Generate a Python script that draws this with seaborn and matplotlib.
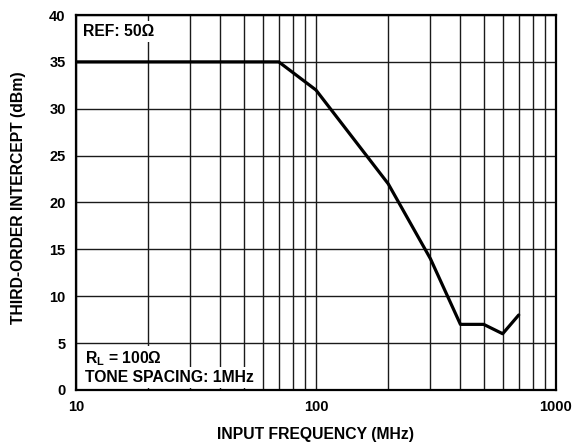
import matplotlib
matplotlib.use("Agg")
import matplotlib.pyplot as plt
import seaborn as sns
import pandas as pd
from matplotlib.ticker import NullFormatter, FixedLocator

# Third-order intercept vs input frequency
freq_mhz = [10, 70, 100, 200, 300, 400, 500, 600, 700]
oip3_dbm = [35, 35, 32, 22, 14, 7, 7, 6, 8]

x_ticks = [10, 100, 1000]
x_tick_labels = ["10", "100", "1000"]
y_ticks = [0, 5, 10, 15, 20, 25, 30, 35, 40]

sns.set_theme(style="white")
plt.rcParams["font.family"] = ["Liberation Sans", "DejaVu Sans"]
plt.rcParams["font.weight"] = "bold"
plt.rcParams["mathtext.fontset"] = "custom"
plt.rcParams["mathtext.bf"] = "Liberation Sans:bold"
for key in ("text.color", "axes.labelcolor", "xtick.color", "ytick.color"):
    plt.rcParams[key] = "black"

df = pd.DataFrame({"freq": freq_mhz, "ip3": oip3_dbm})

fig = plt.figure(figsize=(5.81, 4.48), dpi=100)
ax = fig.add_axes([0.1308, 0.1295, 0.826, 0.837])

ax.set_xscale("log")
ax.set_xlim(10, 1000)
ax.set_ylim(0, 40)

# grid: every decade subdivision and every 5 dBm
minor = [m * d for d in (10, 100) for m in range(2, 10)]
ax.xaxis.set_minor_locator(FixedLocator(minor))
ax.xaxis.set_minor_formatter(NullFormatter())
ax.set_xticks(x_ticks)
ax.set_xticklabels(x_tick_labels)
ax.set_yticks(y_ticks)
ax.grid(True, which="both", axis="x", color="#1a1a1a", linewidth=1.0)
ax.grid(True, which="major", axis="y", color="#1a1a1a", linewidth=1.0)
ax.set_axisbelow(True)

sns.lineplot(data=df, x="freq", y="ip3", ax=ax, color="black", linewidth=2.3,
             zorder=3)

ax.tick_params(axis="both", which="both", length=0, labelsize=10.5, pad=7.5,
               labelcolor="black")
for lbl in ax.get_xticklabels() + ax.get_yticklabels():
    lbl.set_fontweight("bold")

for s in ax.spines.values():
    s.set_color("black")
    s.set_linewidth(1.6)
    s.set_zorder(4)

ax.set_xlabel("INPUT FREQUENCY (MHz)", fontsize=11.3, fontweight="bold",
              color="black")
ax.set_ylabel("THIRD-ORDER INTERCEPT (dBm)", fontsize=11.3, fontweight="bold",
              color="black")
ax.xaxis.set_label_coords(0.5, -0.098)
ax.yaxis.set_label_coords(-0.104, 0.512)

box = dict(facecolor="white", edgecolor="none", pad=2.5)
ax.text(0.0146, 0.944, "REF: 50Ω", transform=ax.transAxes, ha="left",
        va="baseline", fontsize=11.3, fontweight="bold", color="black",
        bbox=box, zorder=5)
ax.text(0.0185, 0.072, "R$_\\mathbf{L}$ = 100Ω", transform=ax.transAxes,
        ha="left", va="baseline", fontsize=11.3, fontweight="bold",
        color="black", bbox=box, zorder=5)
ax.text(0.0185, 0.0213, "TONE SPACING: 1MHz", transform=ax.transAxes,
        ha="left", va="baseline", fontsize=11.3, fontweight="bold",
        color="black", bbox=box, zorder=5)

fig.savefig("out.png", dpi=100)
